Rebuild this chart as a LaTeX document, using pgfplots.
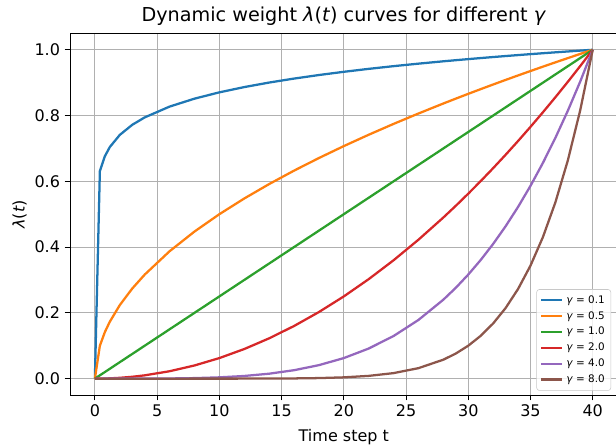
\documentclass[border=0pt]{standalone}
\usepackage{fontspec}
\setmainfont{DejaVu Sans}
\usepackage{pgfplots}
\pgfplotsset{compat=1.18}
\definecolor{c0}{HTML}{1F77B4}
\definecolor{c1}{HTML}{FF7F0E}
\definecolor{c2}{HTML}{2CA02C}
\definecolor{c3}{HTML}{D62728}
\definecolor{c4}{HTML}{9467BD}
\definecolor{c5}{HTML}{8C564B}
\definecolor{gridgray}{HTML}{B0B0B0}

% lambda(t), columns: t, gamma = 0.1, 0.5, 1, 2, 4, 8
\begin{document}
\begin{tikzpicture}
\begin{axis}[
  scale only axis, width=410.7pt, height=271.3pt,
  xmin=-2, xmax=42, ymin=-0.05, ymax=1.05,
  xtick={0,5,...,40}, ytick={0,0.2,...,1.0},
  yticklabel style={/pgf/number format/.cd, fixed, fixed zerofill, precision=1},
  /pgf/number format/assume math mode=true,
  tick label style={font=\fontsize{12}{14}\selectfont},
  tick align=outside, major tick length=4pt,
  xtick pos=bottom, ytick pos=left,
  every tick/.style={black, line width=0.7pt},
  axis line style={line width=0.7pt},
  grid=major, major grid style={gridgray, line width=0.7pt},
  xlabel={Time step t}, ylabel={\textit{λ}(\textit{t})},
  label style={font=\fontsize{12}{14}\selectfont},
  xlabel style={yshift=-2pt},
  ylabel style={yshift=-1pt},
  title={Dynamic weight \textit{λ}(\textit{t}) curves for different \textit{γ}},
  title style={font=\fontsize{14.4}{16}\selectfont, yshift=-4pt},
  every axis plot/.append style={line width=1.7pt, mark=none},
  legend cell align=left,
  legend image code/.code={\draw[#1] (0pt,0pt) -- (16pt,0pt);},
  legend style={at={(0.988,0.012)}, anchor=south east,
    font=\fontsize{7.8}{8.8}\selectfont, draw=gridgray!70, rounded corners=2pt,
    fill=white, fill opacity=0.8, text opacity=1, row sep=0.6pt,
    inner sep=2.5pt},
]
\addplot[c0] coordinates {
 (0,0) (0.4,0.63096) (0.8,0.67624) (1.2,0.70423) (2,0.74113) (3,0.77181)
 (4,0.79433) (6,0.82720) (8,0.85134) (10,0.87055) (12,0.88657) (14,0.90034)
 (16,0.91245) (18,0.92326) (20,0.93303) (22,0.94197) (24,0.95020) (26,0.95783)
 (28,0.96496) (29,0.96835) (30,0.97164) (31,0.97483) (32,0.97793) (33,0.98095)
 (34,0.98388) (35,0.98674) (36,0.98952) (37,0.99223) (38,0.99488) (39,0.99747) (40,1)};
\addlegendentry{\textit{γ} = 0.1}
\addplot[c1] coordinates {
 (0,0) (0.4,0.1) (0.8,0.14142) (1.2,0.17321) (2,0.22361) (3,0.27386)
 (4,0.31623) (6,0.38730) (8,0.44721) (10,0.5) (12,0.54772) (14,0.59161)
 (16,0.63246) (18,0.67082) (20,0.70711) (22,0.74162) (24,0.77460) (26,0.80623)
 (28,0.83666) (29,0.85147) (30,0.86603) (31,0.88034) (32,0.89443) (33,0.90830)
 (34,0.92195) (35,0.93541) (36,0.94868) (37,0.96177) (38,0.97468) (39,0.98742) (40,1)};
\addlegendentry{\textit{γ} = 0.5}
\addplot[c2] coordinates {
 (0,0) (10,0.25) (20,0.5) (30,0.75) (40,1)};
\addlegendentry{\textit{γ} = 1.0}
\addplot[c3] coordinates {
 (0,0) (0.4,0.0001) (0.8,0.0004) (1.2,0.0009) (2,0.0025) (3,0.005625)
 (4,0.01) (6,0.0225) (8,0.04) (10,0.0625) (12,0.09) (14,0.1225)
 (16,0.16) (18,0.2025) (20,0.25) (22,0.3025) (24,0.36) (26,0.4225)
 (28,0.49) (29,0.525625) (30,0.5625) (31,0.600625) (32,0.64) (33,0.680625)
 (34,0.7225) (35,0.765625) (36,0.81) (37,0.855625) (38,0.9025) (39,0.950625) (40,1)};
\addlegendentry{\textit{γ} = 2.0}
\addplot[c4] coordinates {
 (0,0) (2,0.00000625) (3,0.0000316) (4,0.0001) (6,0.00050625) (8,0.0016)
 (10,0.00390625) (12,0.0081) (14,0.01500625) (16,0.0256) (18,0.04100625)
 (20,0.0625) (22,0.09150625) (24,0.1296) (26,0.17850625) (28,0.2401)
 (29,0.276282) (30,0.31640625) (31,0.36075) (32,0.4096) (33,0.46325)
 (34,0.52200625) (35,0.586182) (36,0.6561) (37,0.732094) (38,0.81450625)
 (39,0.903688) (40,1)};
\addlegendentry{\textit{γ} = 4.0}
\addplot[c5] coordinates {
 (0,0) (6,0.000000256) (8,0.00000256) (10,0.00001526) (12,0.00006561)
 (14,0.000225) (16,0.00065536) (18,0.0016815) (20,0.00390625) (22,0.0083734)
 (24,0.0167962) (26,0.0318645) (28,0.0576480) (29,0.0763318) (30,0.1001129)
 (31,0.1301406) (32,0.1677722) (33,0.2145999) (34,0.2724905) (35,0.3436093)
 (36,0.4304672) (37,0.5359616) (38,0.6634204) (39,0.8166520) (40,1)};
\addlegendentry{\textit{γ} = 8.0}
\end{axis}
\pgfresetboundingbox
\path[use as bounding box] (-52.5pt,-36.75pt) rectangle (409.5pt,296.3pt);
\end{tikzpicture}
\end{document}
